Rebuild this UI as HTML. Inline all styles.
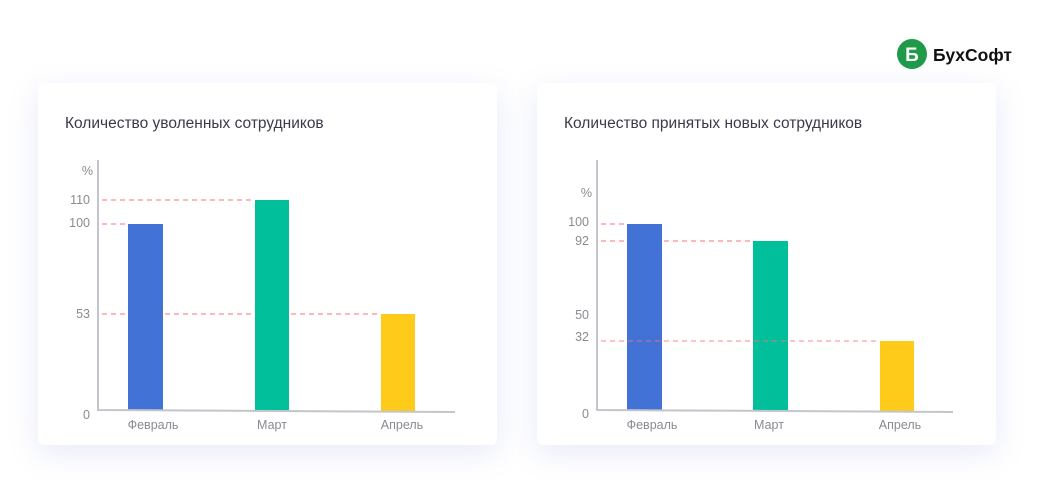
<!DOCTYPE html>
<html><head><meta charset="utf-8"><style>
body{margin:0;width:1061px;height:493px;background:#fff;overflow:hidden;font-family:"Liberation Sans",sans-serif}
.card{position:absolute;top:83px;width:459px;height:362px;background:#fff;border-radius:6px;box-shadow:0 8px 30px rgba(120,140,220,0.18)}
</style></head><body>
<div class="card" style="left:38px"></div>
<div class="card" style="left:537px"></div>
<svg width="1061" height="493" style="position:absolute;left:0;top:0" font-family="Liberation Sans, sans-serif">
<text x="65" y="128" font-size="15.5" fill="#3a3a4a">Количество уволенных сотрудников</text>
<text x="564" y="128" font-size="15.5" fill="#3a3a4a">Количество принятых новых сотрудников</text>
<g font-size="12.5" fill="#8a8a92" text-anchor="end">
<text x="93" y="175">%</text><text x="90" y="204">110</text><text x="90" y="227">100</text><text x="90" y="318">53</text><text x="90" y="419">0</text>
</g>
<g stroke="#ff6f7b" stroke-width="1" stroke-dasharray="5,4">
<line x1="102" y1="200" x2="255" y2="200"/><line x1="102" y1="224" x2="128" y2="224"/><line x1="102" y1="314" x2="381" y2="314"/>
</g>
<rect x="128" y="224" width="35" height="187" fill="#4272d6"/>
<rect x="255" y="200" width="34" height="211" fill="#00bf9a"/>
<rect x="381" y="314" width="34" height="97" fill="#ffcb1a"/>
<g stroke="#c4c4cc" stroke-width="2" fill="none"><polyline points="98,160 98,410 455,412"/></g>
<g font-size="12.5" fill="#8a8a92" text-anchor="middle">
<text x="153" y="429">Февраль</text><text x="272" y="429">Март</text><text x="402" y="429">Апрель</text>
</g>
<g font-size="12.5" fill="#8a8a92" text-anchor="end">
<text x="592" y="197">%</text><text x="589" y="226">100</text><text x="589" y="245">92</text><text x="589" y="319">50</text><text x="589" y="341">32</text><text x="589" y="418">0</text>
</g>
<g stroke="#ff6f7b" stroke-width="1" stroke-dasharray="5,4">
<line x1="601" y1="224" x2="627" y2="224"/><line x1="601" y1="241" x2="753" y2="241"/>
</g>
<rect x="627" y="224" width="35" height="187" fill="#4272d6"/>
<rect x="753" y="241" width="35" height="170" fill="#00bf9a"/>
<rect x="880" y="341" width="34" height="70" fill="#ffcb1a"/>
<line x1="601" y1="341" x2="880" y2="341" stroke="#ff6f7b" stroke-dasharray="5,4" opacity="0.85"/>
<g stroke="#c4c4cc" stroke-width="2" fill="none"><polyline points="597,160 597,410 953,412"/></g>
<g font-size="12.5" fill="#8a8a92" text-anchor="middle">
<text x="652" y="429">Февраль</text><text x="769" y="429">Март</text><text x="900" y="429">Апрель</text>
</g>
<circle cx="912" cy="54" r="15" fill="#1e9a48"/>
<text x="912" y="61" font-size="19" font-weight="bold" fill="#fff" text-anchor="middle">Б</text>
<text x="933" y="61" font-size="17.5" font-weight="bold" fill="#111">БухСофт</text>
</svg>
</body></html>
